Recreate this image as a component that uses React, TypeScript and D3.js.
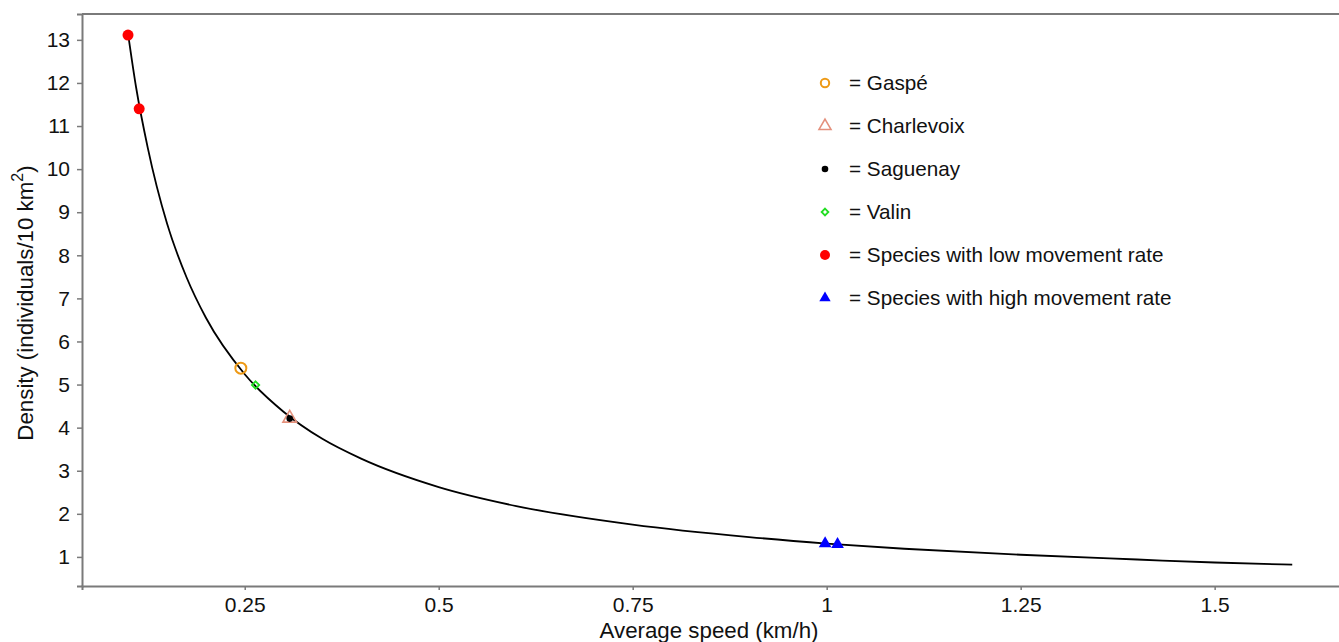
import * as React from "react";
import * as d3 from "d3";

// fitted curve
const curveSpeed = [0.1, 0.11, 0.125, 0.15, 0.175, 0.2, 0.25, 0.3, 0.35, 0.4, 0.5, 0.6, 0.75, 0.9, 1, 1.1, 1.25, 1.4, 1.5, 1.6];
const curveDensity = [13.1, 11.9, 10.5, 8.73, 7.49, 6.55, 5.24, 4.37, 3.74, 3.28, 2.62, 2.18, 1.75, 1.46, 1.31, 1.19, 1.05, 0.94, 0.87, 0.82];

// study sites
const siteNames = ["Gaspé", "Charlevoix", "Saguenay", "Valin"];
const siteSpeed = [0.245, 0.308, 0.308, 0.264];
const siteDensity = [5.38, 4.22, 4.21, 4.99];

// species
const lowSpeed = [0.0996, 0.114];
const lowDensity = [13.11, 11.4];
const highSpeed = [0.998, 1.014];
const highDensity = [1.31, 1.29];

const xTicks = [0.25, 0.5, 0.75, 1, 1.25, 1.5];
const yTicks = [1, 2, 3, 4, 5, 6, 7, 8, 9, 10, 11, 12, 13];

const legendLabels = [
  "= Gaspé",
  "= Charlevoix",
  "= Saguenay",
  "= Valin",
  "= Species with low movement rate",
  "= Species with high movement rate",
];

const FONT = "'Liberation Sans', Arial, sans-serif";
const W = 1339;
const H = 642;

function drawSymbol(g, kind, x, y, big) {
  const s = big ? 1 : 0.85;
  if (kind === 0) {
    g.append("circle").attr("cx", x).attr("cy", y).attr("r", big ? 5.5 : 4.2)
      .attr("fill", "none").attr("stroke", "#EE9A16").attr("stroke-width", 2);
  } else if (kind === 1) {
    g.append("path").attr("d", d3.symbol(d3.symbolTriangle, (big ? 80 : 62))())
      .attr("transform", `translate(${x},${y})`)
      .attr("fill", "none").attr("stroke", "#E4907C").attr("stroke-width", 1.6);
  } else if (kind === 2) {
    g.append("circle").attr("cx", x).attr("cy", y).attr("r", 3.3).attr("fill", "#000");
  } else if (kind === 3) {
    g.append("path").attr("d", d3.symbol(d3.symbolDiamond2, 34 * s)())
      .attr("transform", `translate(${x},${y})`)
      .attr("fill", "none").attr("stroke", "#22DD22").attr("stroke-width", 1.8);
  } else if (kind === 4) {
    g.append("circle").attr("cx", x).attr("cy", y).attr("r", big ? 5.5 : 5).attr("fill", "#FF0000");
  } else {
    g.append("path").attr("d", d3.symbol(d3.symbolTriangle, big ? 70 : 56)())
      .attr("transform", `translate(${x},${y})`)
      .attr("fill", "#0000FF");
  }
}

function drawChart(svgRef) {
  const left = 82, top = 14, bottom = 586;

  const x = d3.scaleLinear().domain([0.0403, 1.668]).range([left, 1345]);
  const y = d3.scaleLinear().domain([0.325, 13.6]).range([bottom, top]);

  const svg = d3.select(svgRef.current).attr("width", W).attr("height", H);
  svg.selectAll("*").remove();

  svg.append("rect").attr("width", W).attr("height", H).attr("fill", "#fff");

  // frame
  svg.append("line").attr("x1", left).attr("x2", W).attr("y1", top).attr("y2", top)
    .attr("stroke", "#7a7a7a").attr("stroke-width", 2);

  const xAxis = svg.append("g")
    .attr("transform", `translate(0,${bottom})`)
    .call(d3.axisBottom(x).tickValues(xTicks).tickFormat(d3.format("")).tickSizeOuter(0).tickSize(4).tickPadding(7));
  const yAxis = svg.append("g")
    .attr("transform", `translate(${left},0)`)
    .call(d3.axisLeft(y).tickValues(yTicks).tickSizeOuter(0).tickSize(5).tickPadding(7));

  [xAxis, yAxis].forEach((a) => {
    a.select(".domain").attr("stroke", "#7a7a7a").attr("stroke-width", 2);
    a.selectAll(".tick line").attr("stroke", "#7a7a7a").attr("stroke-width", 1.5);
    a.selectAll("text").attr("fill", "#111").attr("font-family", FONT).attr("font-size", 21);
  });

  // curve
  const line = d3.line().x((d) => x(d[0])).y((d) => y(d[1])).curve(d3.curveMonotoneX);
  svg.append("path")
    .datum(curveSpeed.map((s, i) => [s, curveDensity[i]]))
    .attr("d", line)
    .attr("fill", "none")
    .attr("stroke", "#000")
    .attr("stroke-width", 1.8);

  const marks = svg.append("g");
  // order: charlevoix under saguenay
  [1, 0, 3, 2].forEach((i) => drawSymbol(marks, i, x(siteSpeed[i]), y(siteDensity[i]), true));
  lowSpeed.forEach((s, i) => drawSymbol(marks, 4, x(s), y(lowDensity[i]), true));
  highSpeed.forEach((s, i) => drawSymbol(marks, 5, x(s), y(highDensity[i]), true));

  // legend
  const leg = svg.append("g");
  legendLabels.forEach((lab, i) => {
    const ly = 83 + i * 43;
    drawSymbol(leg, i, 825, ly, false);
    leg.append("text").attr("x", 849).attr("y", ly).attr("dy", "0.35em")
      .attr("font-family", FONT).attr("font-size", 20.7).attr("fill", "#111").text(lab);
  });

  // axis titles
  svg.append("text").attr("x", 709).attr("y", 638).attr("text-anchor", "middle")
    .attr("font-family", FONT).attr("font-size", 22.3).attr("fill", "#111")
    .text("Average speed (km/h)");

  const yt = svg.append("text")
    .attr("transform", "translate(33,303) rotate(-90)")
    .attr("text-anchor", "middle")
    .attr("font-family", FONT).attr("font-size", 22.3).attr("fill", "#111");
  yt.append("tspan").text("Density (individuals/10 km");
  yt.append("tspan").attr("dy", -10).attr("font-size", 16).text("2");
  yt.append("tspan").attr("dy", 10).text(")");
}

export default function App() {
  const svgRef = React.useRef(null);

  React.useEffect(() => {
    drawChart(svgRef);
  }, []);

  return (
    <div style={{ position: "absolute", top: 0, left: 0 }}>
      <svg ref={svgRef} style={{ display: "block" }} />
    </div>
  );
}
